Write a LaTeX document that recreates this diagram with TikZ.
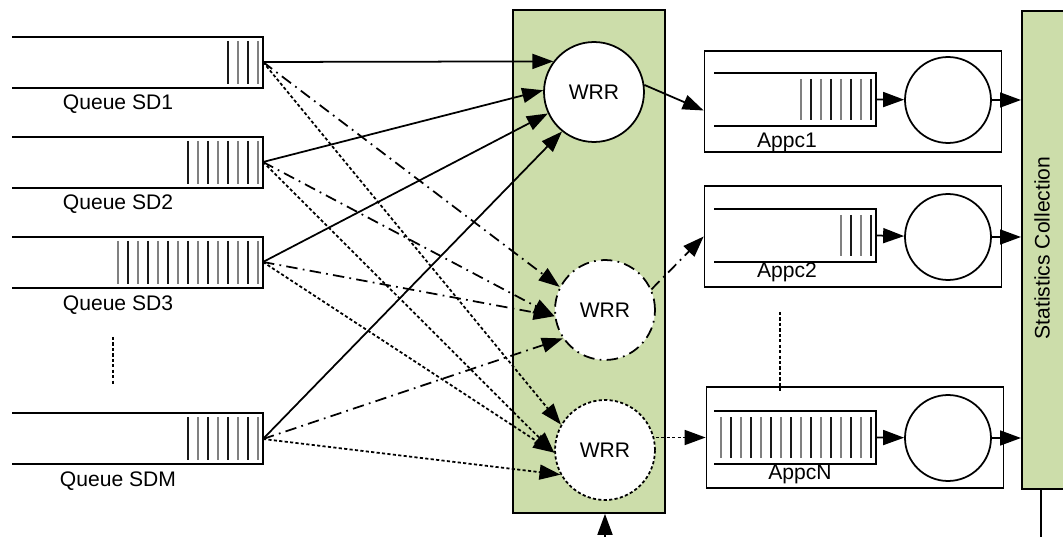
\documentclass[tikz,border=0pt]{standalone}
\usepackage{fontspec}
\setmainfont{Liberation Sans}
\usetikzlibrary{arrows.meta}

\definecolor{boxgreen}{RGB}{204,221,170}

\begin{document}
\begin{tikzpicture}[x=0.02cm, y=-0.02cm, line width=1pt,
    font=\fontsize{12}{14}\selectfont,
    feed/.style={-{Triangle[length=4.2mm,width=3mm]}},
    dashdotline/.style={dash pattern=on 6.5pt off 3pt on 1pt off 3pt},
    dotline/.style={dash pattern=on 1.8pt off 1.3pt},
    wrr/.style={circle, draw, fill=white, minimum size=2cm, inner sep=0pt},
    server/.style={circle, draw, minimum size=1.72cm, inner sep=0pt},
    appbox/.style={draw, minimum width=5.94cm, minimum height=2.02cm, inner sep=0pt},
    bar/.style={line width=1.1pt}]
    \useasboundingbox (0,0) rectangle (1063,537);

    % scheduler and statistics blocks
    \node[draw, fill=boxgreen, minimum width=3.04cm, minimum height=10.06cm, inner sep=0pt] (sched) at (589,261.5) {};
    \node[draw, fill=boxgreen, minimum width=1.2cm, minimum height=9.56cm, inner sep=0pt, anchor=north west] (stats) at (1021,10) {};
    \node[rotate=90] (statstext) at (1042,248) {Statistics Collection};

    % input queues
    \foreach \y in {37,137,237,413}
        \draw (12,\y) -- (263,\y) -- (263,\y+51) -- (12,\y+51);
    \foreach \n/\ya in {3/37,7/137,14/237,7/413}
        \foreach \i in {0,...,\n} {
            \pgfmathtruncatemacro{\shade}{isodd(\i) ? 90 : 50}
            \draw[bar, black!\shade] (258-10*\i,\ya+4) -- (258-10*\i,\ya+47);
        }
    \coordinate (sd1) at (263,62);
    \coordinate (sd2) at (263,162);
    \coordinate (sd3) at (263,262);
    \coordinate (sdM) at (263,439);
    \node (lblsd1) at (118,104) {Queue SD1};
    \node (lblsd2) at (118,204) {Queue SD2};
    \node (lblsd3) at (118,305) {Queue SD3};
    \node (lblsdM) at (118,481) {Queue SDM};
    \draw[dotline] (113,337) -- (113,386);

    % round robin schedulers
    \node[wrr] (wrr1) at (594,92) {WRR};
    \node[wrr, dashdotline] (wrr2) at (605,310) {WRR};
    \node[wrr, dotline] (wrr3) at (605,450) {WRR};

    \foreach \q/\a in {sd1/143, sd2/178, sd3/205, sdM/231}
        \draw[feed] (\q) -- (wrr1.\a);
    \foreach \q/\a in {sd1/153, sd2/187, sd3/187, sdM/214}
        \draw[feed, dashdotline] (\q) -- (wrr2.\a);
    \foreach \q/\a in {sd1/150, sd2/183, sd3/183, sdM/209}
        \draw[feed, dotline] (\q) -- (wrr3.\a);

    % application classes
    \node[appbox] (app1) at (853,101.5) {};
    \node[appbox] (app2) at (853,236.5) {};
    \node[appbox] (appN) at (855,437.5) {};
    \node (lblapp1) at (787,142) {Appc1};
    \node (lblapp2) at (787,272) {Appc2};
    \node (lblappN) at (800,474) {AppcN};

    \foreach \y in {73,209,411}
        \draw (714,\y) -- (876,\y) -- (876,\y+53) -- (714,\y+53);
    \foreach \n/\ya in {7/73,3/209,15/411}
        \foreach \i in {0,...,\n} {
            \pgfmathtruncatemacro{\shade}{isodd(\i) ? 50 : 90}
            \draw[bar, black!\shade] (871-10*\i,\ya+6) -- (871-10*\i,\ya+47);
        }
    \coordinate (tail1) at (876,99.5);
    \coordinate (tail2) at (876,235.5);
    \coordinate (tailN) at (876,437.5);

    \node[server] (srv1) at (948,100) {};
    \node[server] (srv2) at (948,237) {};
    \node[server] (srvN) at (948,438) {};
    \draw[feed] (tail1) -- (srv1);
    \draw[feed] (tail2) -- (srv2);
    \draw[feed] (tailN) -- (srvN);
    \draw[feed] (srv1) -- (srv1 -| stats.west);
    \draw[feed] (srv2) -- (srv2 -| stats.west);
    \draw[feed] (srvN) -- (srvN -| stats.west);
    \draw[dotline] (780,312) -- (780,393);

    \draw[feed] (wrr1.8) -- ([yshift=-0.18cm]app1.west);
    \draw[feed, dashdotline] (wrr2.24) -- (app2.west);
    \draw[feed, dotline] (wrr3.east |- appN.west) -- (appN.west);

    % control input and output
    \coordinate (ctrl) at (605,537);
    \draw[feed] (ctrl) -- (ctrl |- sched.south);
    \coordinate (export) at (1041,537);
    \draw (export |- stats.south) -- (export);
\end{tikzpicture}
\end{document}
